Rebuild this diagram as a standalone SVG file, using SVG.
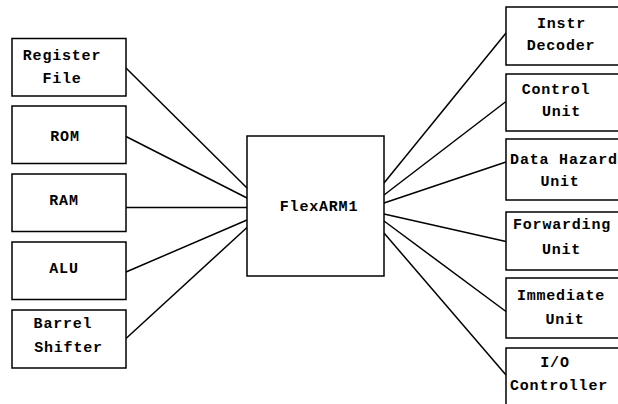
<svg xmlns="http://www.w3.org/2000/svg" width="618" height="404" viewBox="0 0 618 404">
<style>
rect{fill:#fff;stroke:#000;stroke-width:1.5}
text{font-family:"Liberation Mono","Courier New",monospace;font-weight:bold;font-size:15px;letter-spacing:0.8px;text-anchor:middle;fill:#000}
.c line{stroke:#000;stroke-width:1.5}
</style>
<rect x="0" y="0" width="618" height="404" style="stroke:none"/>
<g class="c" id="connectors">
<line x1="126" y1="68" x2="247" y2="188"/>
<line x1="126" y1="136.5" x2="247" y2="198"/>
<line x1="126" y1="207.5" x2="247" y2="207.5"/>
<line x1="126" y1="272" x2="247" y2="220"/>
<line x1="126" y1="338.5" x2="247" y2="227.5"/>
<line x1="384" y1="183" x2="506" y2="33"/>
<line x1="384" y1="195" x2="506" y2="101.5"/>
<line x1="384" y1="203" x2="506" y2="162"/>
<line x1="384" y1="214" x2="506" y2="241.5"/>
<line x1="384" y1="221" x2="506" y2="311.5"/>
<line x1="384" y1="233" x2="506" y2="375"/>
</g>
<g id="regfile"><rect x="12" y="38.5" width="114" height="57.5"/><text x="62" y="60">Register</text><text x="62" y="83">File</text></g>
<g id="rom"><rect x="12" y="106" width="114" height="57.5"/><text x="65" y="140.5">ROM</text></g>
<g id="ram"><rect x="12" y="174" width="114" height="57.5"/><text x="64" y="204.5">RAM</text></g>
<g id="alu"><rect x="12" y="242" width="114" height="57.5"/><text x="64" y="273">ALU</text></g>
<g id="barrel"><rect x="12" y="310" width="114" height="58"/><text x="63" y="328">Barrel</text><text x="68.5" y="352">Shifter</text></g>
<g id="flexarm1"><rect x="247" y="136" width="137" height="140"/><text x="319" y="211">FlexARM1</text></g>
<g id="instr"><rect x="506" y="7" width="130" height="58"/><text x="561.5" y="27.5">Instr</text><text x="561" y="50">Decoder</text></g>
<g id="control"><rect x="506" y="74" width="130" height="57"/><text x="556" y="93.5">Control</text><text x="561.5" y="116">Unit</text></g>
<g id="hazard"><rect x="506" y="139" width="130" height="61"/><text x="564" y="163.5">Data Hazard</text><text x="560" y="186">Unit</text></g>
<g id="forward"><rect x="506" y="212" width="130" height="58"/><text x="562" y="228.5">Forwarding</text><text x="561.5" y="254">Unit</text></g>
<g id="immediate"><rect x="506" y="278" width="130" height="60"/><text x="561" y="300">Immediate</text><text x="565" y="323.5">Unit</text></g>
<g id="io"><rect x="506" y="348" width="130" height="70"/><text x="555" y="367">I/O</text><text x="559" y="389.5">Controller</text></g>
</svg>
